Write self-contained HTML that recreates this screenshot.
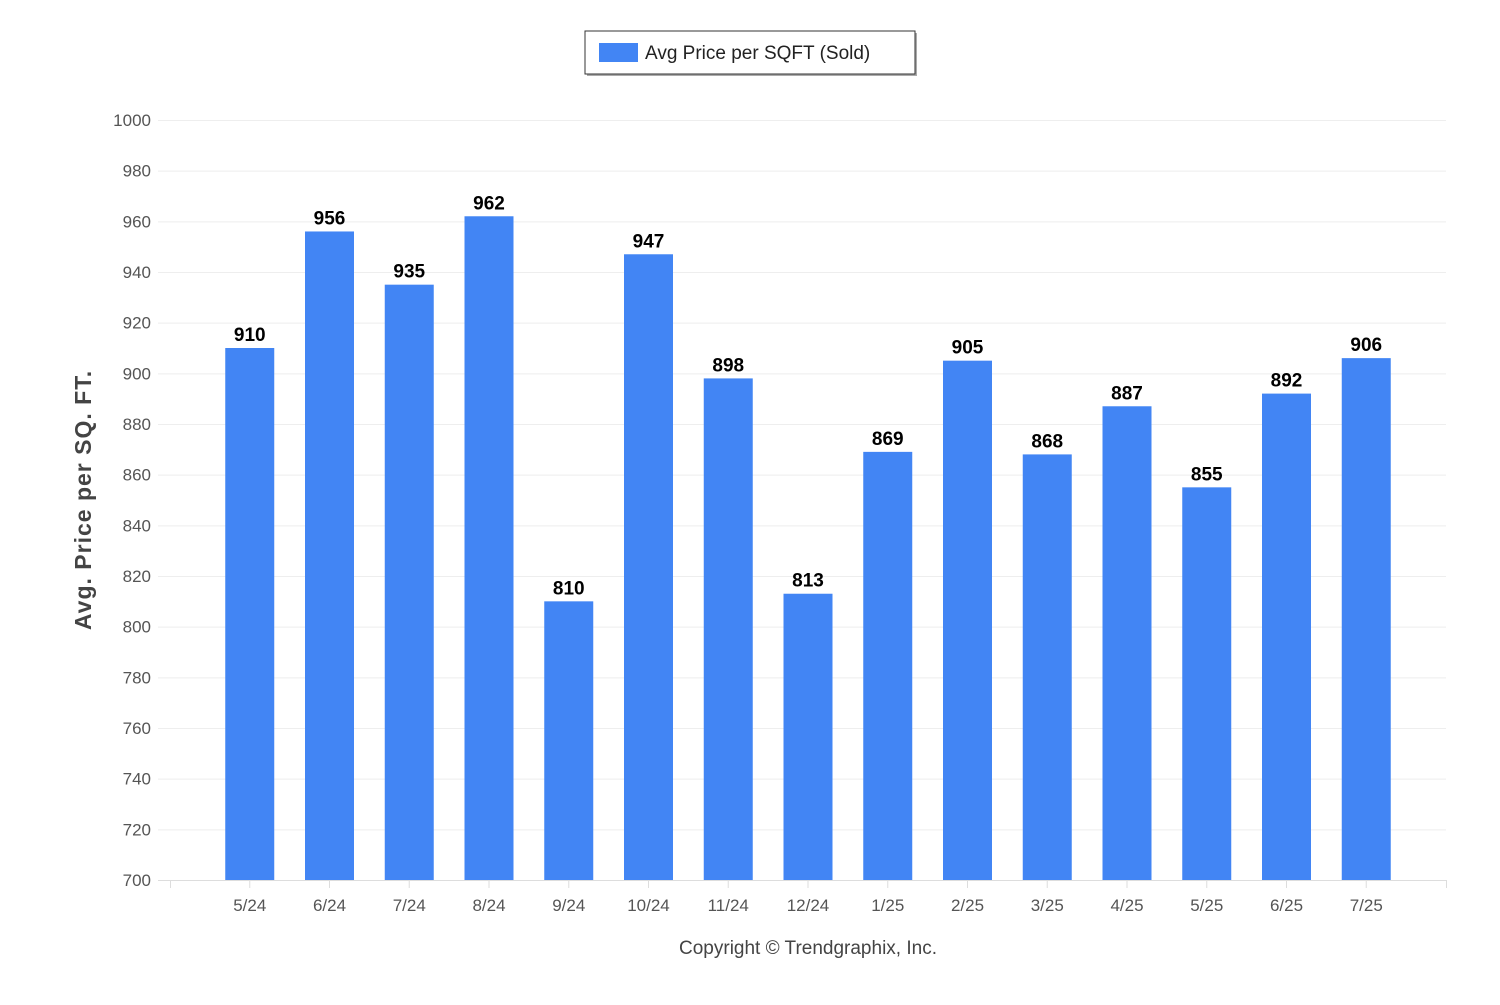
<!DOCTYPE html>
<html><head><meta charset="utf-8"><style>
body{margin:0;background:#fff;width:1500px;height:1000px;overflow:hidden}
svg text{font-family:"Liberation Sans",sans-serif}
</style></head><body>
<svg id="chart" width="1500" height="1000" xmlns="http://www.w3.org/2000/svg">
<g>
<rect x="587" y="33" width="330" height="43" fill="#555" opacity="0.5"/>
<rect x="585" y="31" width="330" height="43" fill="#fff" stroke="#333" stroke-width="1"/>
<rect x="599" y="43" width="39" height="19" fill="#4285f4"/>
<text x="645" y="59" font-size="19" fill="#222">Avg Price per SQFT (Sold)</text>
</g>
<g id="grid"></g><g id="yticks"></g><g id="bars"></g><g id="xticks"></g>
<text transform="translate(91,500) rotate(-90)" text-anchor="middle" font-size="23" fill="#444" font-weight="bold" letter-spacing="1">Avg. Price per SQ. FT.</text>
<text x="808" y="954" text-anchor="middle" font-size="19" fill="#444">Copyright © Trendgraphix, Inc.</text>
</svg>
<script>
const categories=["5/24","6/24","7/24","8/24","9/24","10/24","11/24","12/24","1/25","2/25","3/25","4/25","5/25","6/25","7/25"];
const values=[910,956,935,962,810,947,898,813,869,905,868,887,855,892,906];
const yTicks=[700,720,740,760,780,800,820,840,860,880,900,920,940,960,980,1000];
const NS="http://www.w3.org/2000/svg";
const x0=170,x1=1446,yMin=700,yMax=1000,py0=880,py1=120;
const band=(x1-x0)/(categories.length+1);
const y=v=>py0-(v-yMin)/(yMax-yMin)*(py0-py1);
const xc=i=>x0+band*(i+1);
function mk(t,a,p){const e=document.createElementNS(NS,t);for(const k in a)e.setAttribute(k,a[k]);p.appendChild(e);return e;}
const grid=document.getElementById('grid'),yt=document.getElementById('yticks'),bars=document.getElementById('bars'),xt=document.getElementById('xticks');
yTicks.forEach(v=>{
 const l=mk('line',{x1:158,x2:x1,y1:y(v)+0.5,y2:y(v)+0.5,stroke:v===yMin?'#ddd':'#eee','stroke-width':1},grid);
 
 
 const t=mk('text',{x:151,y:y(v)+6,'text-anchor':'end','font-size':17,fill:'#555'},yt);
 t.textContent=v;
 
 
});
[x0,x1].forEach(xx=>{const l=mk('line',{x1:xx+0.5,x2:xx+0.5,y1:880,y2:888,stroke:'#ddd'},grid);
 
 });
categories.forEach((c,i)=>{
 const cx=xc(i),w=49;
 const r=mk('rect',{x:cx-w/2,y:y(values[i]),width:w,height:py0-y(values[i]),fill:'#4285f4'},bars);
 
 
 const lb=mk('text',{x:cx,y:y(values[i])-7,'text-anchor':'middle','font-size':19,'font-weight':'bold',fill:'#000'},bars);
 lb.textContent=values[i];
 
 
 const tk=mk('line',{x1:cx,x2:cx,y1:880,y2:888,stroke:'#ddd'},xt);
 
 
 const t=mk('text',{x:cx,y:911,'text-anchor':'middle','font-size':17,fill:'#555'},xt);
 t.textContent=c;
 
 
});
</script>
</body></html>
